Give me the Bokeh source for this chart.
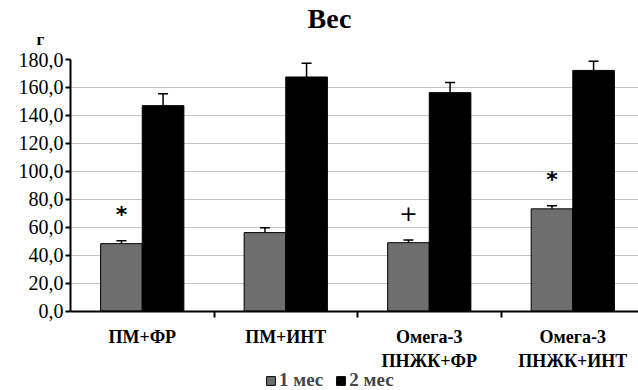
from bokeh.plotting import figure
from bokeh.models import (ColumnDataSource, FixedTicker, Range1d, Whisker, TeeHead,
                          Legend, LegendItem, Title)
from bokeh.core.properties import value
from bokeh.embed import file_html
from bokeh.resources import INLINE

categories = ["ПМ+ФР", "ПМ+ИНТ", "Омега-3\nПНЖК+ФР", "Омега-3\nПНЖК+ИНТ"]
series_names = ["1 мес", "2 мес"]
month1 = [48.3, 56.2, 49.0, 73.2]
month1_err = [2.0, 3.5, 1.9, 2.2]
month2 = [147.0, 167.5, 156.3, 172.2]
month2_err = [8.5, 9.8, 7.3, 6.6]
markers = ["*", "", "+", "*"]
y_ticks = [0, 20, 40, 60, 80, 100, 120, 140, 160, 180]

FONT = "Liberation Serif"
GRAY = "#6e6e6e"
BLACK = "#000000"
BW = 0.29

n = len(categories)
centers = [i + 0.5 for i in range(n)]

# frame extends below the value axis so that the category labels and the legend
# can sit inside it; the value axis itself is bounded to 0..180
p = figure(width=638, height=390, output_backend="svg", toolbar_location=None,
           x_range=Range1d(0, 3.958), y_range=Range1d(-56.7, 180),
           min_border_left=70, min_border_right=0, min_border_top=0, min_border_bottom=0)
p.outline_line_color = None
p.background_fill_color = "white"
p.border_fill_color = "white"

# top spacer (outermost), then the chart title, then the unit label next to the frame
p.title.text = " "
p.title.text_font_size = "4px"
p.title.standoff = 9.5
p.add_layout(Title(text="г", align="left", offset=-34, text_font=FONT, text_color=BLACK,
                   text_font_size="17px", text_font_style="bold", standoff=21), "above")
p.add_layout(Title(text="Вес", align="left", offset=237, text_font=FONT, text_color=BLACK,
                   text_font_size="28px", text_font_style="bold", standoff=-33), "above")

s1 = ColumnDataSource(dict(x=[c - BW / 2 for c in centers], top=month1,
                           upper=[v + e for v, e in zip(month1, month1_err)]))
s2 = ColumnDataSource(dict(x=[c + BW / 2 for c in centers], top=month2,
                           upper=[v + e for v, e in zip(month2, month2_err)]))

r1 = p.vbar(x="x", top="top", bottom=0, width=BW, source=s1, fill_color=GRAY, line_color=BLACK, line_width=1)
r2 = p.vbar(x="x", top="top", bottom=0, width=BW, source=s2, fill_color=BLACK, line_color=BLACK, line_width=1)

for s in (s1, s2):
    w = Whisker(source=s, base="x", lower="top", upper="upper", dimension="height",
                line_color=BLACK, line_width=1.5,
                upper_head=TeeHead(size=10, line_color=BLACK, line_width=1.5), lower_head=None)
    p.add_layout(w)

# significance markers above first-month bars
mk = ColumnDataSource(dict(x=[c - BW / 2 for c in centers],
                           y=[v + e + 19 for v, e in zip(month1, month1_err)],
                           t=markers,
                           st=["bold" if m == "*" else "normal" for m in markers]))
p.text(x="x", y="y", text="t", source=mk, text_align="center", text_baseline="middle",
       text_font=value("DejaVu Sans"), text_font_size="22px", text_font_style="st",
       text_color=BLACK)

# axes
p.yaxis.ticker = FixedTicker(ticks=y_ticks)
p.yaxis.bounds = (0, 180)
p.yaxis.major_label_overrides = {t: f"{t},0" for t in y_ticks}
p.yaxis.major_label_text_font = FONT
p.yaxis.major_label_text_font_size = "20px"
p.yaxis.major_label_text_color = BLACK
p.yaxis.axis_line_width = 2
p.yaxis.axis_line_color = BLACK
p.yaxis.major_tick_out = 5
p.yaxis.major_tick_in = 0
p.yaxis.major_tick_line_width = 2
p.yaxis.minor_tick_out = 0
p.yaxis.minor_tick_in = 0
p.yaxis.major_label_standoff = 2

p.xaxis.fixed_location = 0
p.xaxis.ticker = FixedTicker(ticks=centers, minor_ticks=[1, 2, 3])
p.xaxis.major_label_overrides = {c: lab for c, lab in zip(centers, categories)}
p.xaxis.major_label_text_font = FONT
p.xaxis.major_label_text_font_size = "18px"
p.xaxis.major_label_text_font_style = "bold"
p.xaxis.major_label_text_color = BLACK
p.xaxis.axis_line_width = 2
p.xaxis.axis_line_color = BLACK
p.xaxis.major_tick_out = 0
p.xaxis.major_tick_in = 0
p.xaxis.minor_tick_out = 6
p.xaxis.minor_tick_in = 0
p.xaxis.minor_tick_line_width = 2
p.xaxis.minor_tick_line_color = BLACK
p.xaxis.major_label_standoff = 10

p.xgrid.grid_line_color = None
p.ygrid.ticker = FixedTicker(ticks=y_ticks)
p.ygrid.grid_line_color = "#8a8a8a"
p.ygrid.grid_line_dash = "1 1"
p.ygrid.grid_line_width = 1

legend = Legend(items=[LegendItem(label=series_names[0], renderers=[r1]),
                       LegendItem(label=series_names[1], renderers=[r2])],
                orientation="horizontal", location=(195, -1),
                label_text_font=FONT, label_text_font_size="19px", label_text_font_style="bold",
                glyph_width=11, glyph_height=11, label_standoff=3, spacing=12,
                padding=0, margin=0, border_line_color=None, background_fill_alpha=0)
p.add_layout(legend, "center")

open("out.html", "w").write(file_html(p, INLINE))
